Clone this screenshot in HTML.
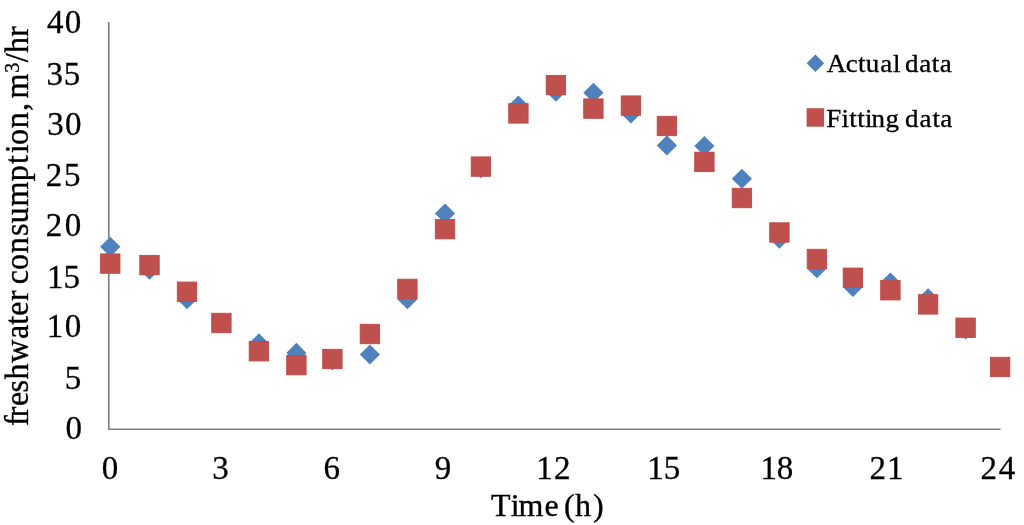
<!DOCTYPE html>
<html><head><meta charset="utf-8"><title>chart</title>
<style>
html,body{margin:0;padding:0;background:#fff;}
body{width:1024px;height:525px;overflow:hidden;}
svg{display:block;}
text{font-family:"Liberation Serif","Times New Roman",serif;fill:#000;stroke:#000;stroke-width:0.35px;}
.ax{stroke-width:0.3px;}
</style></head><body>
<svg width="1024" height="525" viewBox="0 0 1024 525">
<rect width="1024" height="525" fill="#fff"/>
<path d="M108.8 21.9V430.1" fill="none" stroke="#7e7e7e" stroke-width="1.6"/>
<path d="M108 429.3H1000.5" fill="none" stroke="#7e7e7e" stroke-width="1.6"/>
<path d="M110.25 236.65L120.35 246.75L110.25 256.85L100.15 246.75Z" fill="#4f81bd"/>
<path d="M149.50 259.65L159.60 269.75L149.50 279.85L139.40 269.75Z" fill="#4f81bd"/>
<path d="M187.00 289.15L197.10 299.25L187.00 309.35L176.90 299.25Z" fill="#4f81bd"/>
<path d="M221.40 312.90L231.50 323.00L221.40 333.10L211.30 323.00Z" fill="#4f81bd"/>
<path d="M258.90 333.30L269.00 343.40L258.90 353.50L248.80 343.40Z" fill="#4f81bd"/>
<path d="M296.40 342.80L306.50 352.90L296.40 363.00L286.30 352.90Z" fill="#4f81bd"/>
<path d="M332.40 350.15L342.50 360.25L332.40 370.35L322.30 360.25Z" fill="#4f81bd"/>
<path d="M369.90 344.40L380.00 354.50L369.90 364.60L359.80 354.50Z" fill="#4f81bd"/>
<path d="M407.40 289.15L417.50 299.25L407.40 309.35L397.30 299.25Z" fill="#4f81bd"/>
<path d="M445.00 203.40L455.10 213.50L445.00 223.60L434.90 213.50Z" fill="#4f81bd"/>
<path d="M480.90 158.15L491.00 168.25L480.90 178.35L470.80 168.25Z" fill="#4f81bd"/>
<path d="M518.40 95.40L528.50 105.50L518.40 115.60L508.30 105.50Z" fill="#4f81bd"/>
<path d="M555.90 81.65L566.00 91.75L555.90 101.85L545.80 91.75Z" fill="#4f81bd"/>
<path d="M593.40 82.65L603.50 92.75L593.40 102.85L583.30 92.75Z" fill="#4f81bd"/>
<path d="M630.90 103.40L641.00 113.50L630.90 123.60L620.80 113.50Z" fill="#4f81bd"/>
<path d="M666.90 135.30L677.00 145.40L666.90 155.50L656.80 145.40Z" fill="#4f81bd"/>
<path d="M704.40 135.90L714.50 146.00L704.40 156.10L694.30 146.00Z" fill="#4f81bd"/>
<path d="M741.90 168.65L752.00 178.75L741.90 188.85L731.80 178.75Z" fill="#4f81bd"/>
<path d="M779.40 228.65L789.50 238.75L779.40 248.85L769.30 238.75Z" fill="#4f81bd"/>
<path d="M816.90 258.15L827.00 268.25L816.90 278.35L806.80 268.25Z" fill="#4f81bd"/>
<path d="M852.90 276.90L863.00 287.00L852.90 297.10L842.80 287.00Z" fill="#4f81bd"/>
<path d="M890.40 272.40L900.50 282.50L890.40 292.60L880.30 282.50Z" fill="#4f81bd"/>
<path d="M928.10 288.15L938.20 298.25L928.10 308.35L918.00 298.25Z" fill="#4f81bd"/>
<path d="M965.60 319.40L975.70 329.50L965.60 339.60L955.50 329.50Z" fill="#4f81bd"/>
<path d="M1000.10 356.90L1010.20 367.00L1000.10 377.10L990.00 367.00Z" fill="#4f81bd"/>
<rect x="100.55" y="253.90" width="19.4" height="19.4" fill="#c0504d" stroke="#bd4b48" stroke-width="0.9"/>
<rect x="139.80" y="255.40" width="19.4" height="19.4" fill="#c0504d" stroke="#bd4b48" stroke-width="0.9"/>
<rect x="177.30" y="282.05" width="19.4" height="19.4" fill="#c0504d" stroke="#bd4b48" stroke-width="0.9"/>
<rect x="211.70" y="313.30" width="19.4" height="19.4" fill="#c0504d" stroke="#bd4b48" stroke-width="0.9"/>
<rect x="249.20" y="341.55" width="19.4" height="19.4" fill="#c0504d" stroke="#bd4b48" stroke-width="0.9"/>
<rect x="286.70" y="355.40" width="19.4" height="19.4" fill="#c0504d" stroke="#bd4b48" stroke-width="0.9"/>
<rect x="322.70" y="349.30" width="19.4" height="19.4" fill="#c0504d" stroke="#bd4b48" stroke-width="0.9"/>
<rect x="360.20" y="324.30" width="19.4" height="19.4" fill="#c0504d" stroke="#bd4b48" stroke-width="0.9"/>
<rect x="397.70" y="279.20" width="19.4" height="19.4" fill="#c0504d" stroke="#bd4b48" stroke-width="0.9"/>
<rect x="435.30" y="219.40" width="19.4" height="19.4" fill="#c0504d" stroke="#bd4b48" stroke-width="0.9"/>
<rect x="471.20" y="156.90" width="19.4" height="19.4" fill="#c0504d" stroke="#bd4b48" stroke-width="0.9"/>
<rect x="508.70" y="103.70" width="19.4" height="19.4" fill="#c0504d" stroke="#bd4b48" stroke-width="0.9"/>
<rect x="546.20" y="75.40" width="19.4" height="19.4" fill="#c0504d" stroke="#bd4b48" stroke-width="0.9"/>
<rect x="583.70" y="98.90" width="19.4" height="19.4" fill="#c0504d" stroke="#bd4b48" stroke-width="0.9"/>
<rect x="621.20" y="95.90" width="19.4" height="19.4" fill="#c0504d" stroke="#bd4b48" stroke-width="0.9"/>
<rect x="657.20" y="116.30" width="19.4" height="19.4" fill="#c0504d" stroke="#bd4b48" stroke-width="0.9"/>
<rect x="694.70" y="152.20" width="19.4" height="19.4" fill="#c0504d" stroke="#bd4b48" stroke-width="0.9"/>
<rect x="732.20" y="188.30" width="19.4" height="19.4" fill="#c0504d" stroke="#bd4b48" stroke-width="0.9"/>
<rect x="769.70" y="222.80" width="19.4" height="19.4" fill="#c0504d" stroke="#bd4b48" stroke-width="0.9"/>
<rect x="807.20" y="249.30" width="19.4" height="19.4" fill="#c0504d" stroke="#bd4b48" stroke-width="0.9"/>
<rect x="843.20" y="268.05" width="19.4" height="19.4" fill="#c0504d" stroke="#bd4b48" stroke-width="0.9"/>
<rect x="880.70" y="280.55" width="19.4" height="19.4" fill="#c0504d" stroke="#bd4b48" stroke-width="0.9"/>
<rect x="918.40" y="294.70" width="19.4" height="19.4" fill="#c0504d" stroke="#bd4b48" stroke-width="0.9"/>
<rect x="955.90" y="318.05" width="19.4" height="19.4" fill="#c0504d" stroke="#bd4b48" stroke-width="0.9"/>
<rect x="990.40" y="357.30" width="19.4" height="19.4" fill="#c0504d" stroke="#bd4b48" stroke-width="0.9"/>
<text class="ax" x="47.06 64.76" y="33.20" font-size="33">40</text>
<text class="ax" x="46.62 63.79" y="84.50" font-size="33">35</text>
<text class="ax" x="47.32 64.96" y="134.50" font-size="33">30</text>
<text class="ax" x="45.65 63.99" y="186.20" font-size="33">25</text>
<text class="ax" x="45.65 64.76" y="235.80" font-size="33">20</text>
<text class="ax" x="47.10 63.59" y="287.70" font-size="33">15</text>
<text class="ax" x="46.80 64.76" y="337.30" font-size="33">10</text>
<text class="ax" x="64.79" y="389.10" font-size="33">5</text>
<text class="ax" x="65.50" y="439.30" font-size="33">0</text>
<text class="ax" x="101.65" y="478.60" font-size="33">0</text>
<text class="ax" x="212.30" y="478.60" font-size="33">3</text>
<text class="ax" x="323.38" y="478.60" font-size="33">6</text>
<text class="ax" x="434.70" y="478.60" font-size="33">9</text>
<text class="ax" x="536.30 554.02" y="478.60" font-size="33">12</text>
<text class="ax" x="647.30 663.79" y="478.60" font-size="33">15</text>
<text class="ax" x="760.50 776.66" y="478.60" font-size="33">18</text>
<text class="ax" x="869.55 886.98" y="478.60" font-size="33">21</text>
<text class="ax" x="980.55 998.82" y="478.60" font-size="33">24</text>
<g transform="translate(27.9,425.1) rotate(-90) scale(1,1.035)"><text font-size="32" x="-0.98 7.96 19.05 32.69 45.69 62.27 86.17 100.39 109.35 124.16 134.50 140.78 155.18 171.77 189.19 201.88 218.73 243.98 261.19 271.83 280.08 296.77 314.18 320.00 326.73" y="0">freshwater consumption, m</text><text font-size="20" x="352.34" y="-8.89">3</text><text font-size="32" x="362.80 372.19 388.36" y="0">/hr</text></g>
<text font-size="32" x="490.92 510.73 518.53 544.55 558.00 564.09 574.99 593.00" y="515.8">Time (h)</text>
<path d="M815.4 54.5L824.1999999999999 63.3L815.4 72.1L806.6 63.3Z" fill="#4f81bd"/>
<rect x="806.6" y="108.2" width="17.5" height="18.5" fill="#c0504d"/>
<text font-size="27" transform="translate(0,71.7) scale(1,0.97)" x="826.69 845.87 857.94 865.64 880.15 893.06 900.00 905.12 919.15 931.64 939.85" y="0">Actual data</text>
<text font-size="27" transform="translate(0,126.5) scale(1,0.97)" x="826.17 841.63 849.34 857.14 865.03 871.58 885.49 900.00 905.02 919.55 932.54 940.15" y="0">Fitting data</text>
</svg></body></html>
